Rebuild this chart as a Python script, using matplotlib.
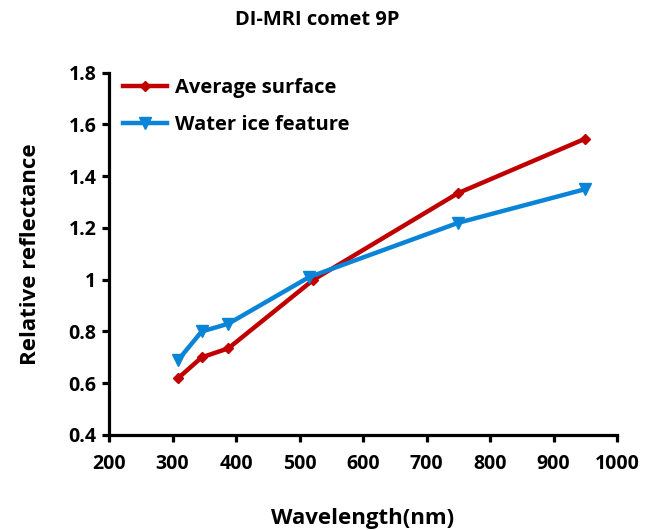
import matplotlib
matplotlib.use("Agg")
import matplotlib.pyplot as plt

wavelength = [309, 346, 388, 522, 750, 950]
average_surface = [0.62, 0.70, 0.735, 1.00, 1.335, 1.545]
wl_ice = [309, 346, 388, 515, 750, 950]
water_ice = [0.69, 0.80, 0.83, 1.01, 1.22, 1.35]
xticks = [200, 300, 400, 500, 600, 700, 800, 900, 1000]
yticks = [0.4, 0.6, 0.8, 1.0, 1.2, 1.4, 1.6, 1.8]
ytick_labels = ["0.4", "0.6", "0.8", "1", "1.2", "1.4", "1.6", "1.8"]

plt.rcParams['font.family'] = ['Open Sans', 'DejaVu Sans']
plt.rcParams['font.weight'] = 'bold'

fig = plt.figure(figsize=(6.59, 5.30), dpi=100)
ax = fig.add_axes([109/659, 95/530, 508/659, 362.3/530])

red = '#C00000'
blue = '#0A84D6'
ax.plot(wavelength, average_surface, color=red, lw=3.2, marker='D', ms=5.5,
        label='Average surface')
ax.plot(wl_ice, water_ice, color=blue, lw=3.2, marker='v', ms=8,
        label='Water ice feature')

ax.set_xlim(200, 1000)
ax.set_ylim(0.4, 1.8)
ax.set_xticks(xticks)
ax.set_yticks(yticks)
ax.set_yticklabels(ytick_labels)
for s in ['top', 'right']:
    ax.spines[s].set_visible(False)
for s in ['left', 'bottom']:
    ax.spines[s].set_linewidth(2.3)
ax.tick_params(width=2.3, length=5, labelsize=14)
ax.tick_params(axis='x', pad=9)
ax.tick_params(axis='y', pad=4)
for lbl in ax.get_xticklabels() + ax.get_yticklabels():
    lbl.set_fontweight('bold')

ax.set_xlabel('Wavelength(nm)', fontsize=16, fontweight='bold', labelpad=24)
ax.set_ylabel('Relative reflectance', fontsize=16, fontweight='bold', labelpad=20)

leg = ax.legend(loc='upper left', bbox_to_anchor=(0.0, 1.025), frameon=False,
                prop={'size': 14.5, 'weight': 'bold'}, handlelength=2.2,
                handletextpad=0.4, labelspacing=0.85, borderaxespad=0.3)

fig.text(317/659, 1 - 20/530, 'DI-MRI comet 9P', ha='center', va='center',
         fontsize=14.5, fontweight='bold')

fig.savefig('out.png', dpi=100)
